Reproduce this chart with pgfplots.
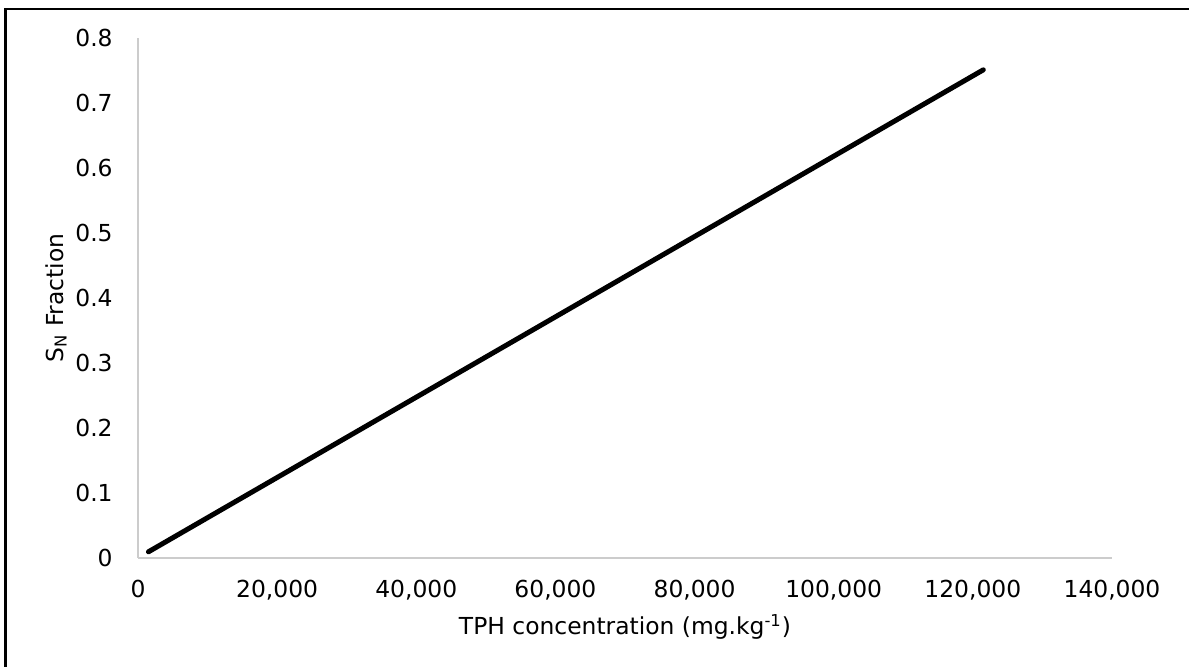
\documentclass[border=0pt]{standalone}
\usepackage{fontspec}
\setmainfont{DejaVu Sans}
\usepackage{pgfplots}
\pgfplotsset{compat=1.18}
\definecolor{axisgray}{RGB}{204,204,204}
\begin{document}
\begin{tikzpicture}
\useasboundingbox (0,0) rectangle (594.5pt,333.5pt);
\fill[white] (0,0) rectangle (594.5pt,333.5pt);
\draw[line width=1.25pt, black] (2.75pt,-2pt) -- (2.75pt,329pt) -- (600pt,329pt);
\begin{axis}[
  at={(69pt,54.5pt)}, anchor=south west,
  scale only axis, width=487pt, height=260pt,
  xmin=0, xmax=140000, ymin=0, ymax=0.8,
  scaled x ticks=false, scaled y ticks=false,
  axis lines*=left,
  axis line style={draw=axisgray, line width=0.75pt, -},
  major tick length=0pt,
  xtick={0,20000,40000,60000,80000,100000,120000,140000},
  xticklabels={0,{20,000},{40,000},{60,000},{80,000},{100,000},{120,000},{140,000}},
  ytick={0,0.1,0.2,0.3,0.4,0.5,0.6,0.7,0.8},
  yticklabels={0,0.1,0.2,0.3,0.4,0.5,0.6,0.7,0.8},
  tick label style={font=\fontsize{11.7pt}{14pt}\selectfont, text=black},
  xticklabel style={anchor=base, inner sep=0pt, yshift=-20pt},
  yticklabel style={anchor=east, inner sep=0pt, xshift=-12.5pt},
  xlabel={TPH concentration (mg.kg\textsuperscript{-1})},
  ylabel={S\textsubscript{N} Fraction},
  label style={font=\fontsize{11.7pt}{14pt}\selectfont},
  xlabel style={at={(axis description cs:0.5,0)}, anchor=base, inner sep=0pt, yshift=-38.5pt},
  ylabel style={at={(axis description cs:-0.077,0.5)}, anchor=base, inner sep=0pt},
  clip=false,
]
\addplot[black, line width=2.5pt, line cap=round] coordinates {(1500,0.0095) (121500,0.751)};
\end{axis}
\end{tikzpicture}
\end{document}
